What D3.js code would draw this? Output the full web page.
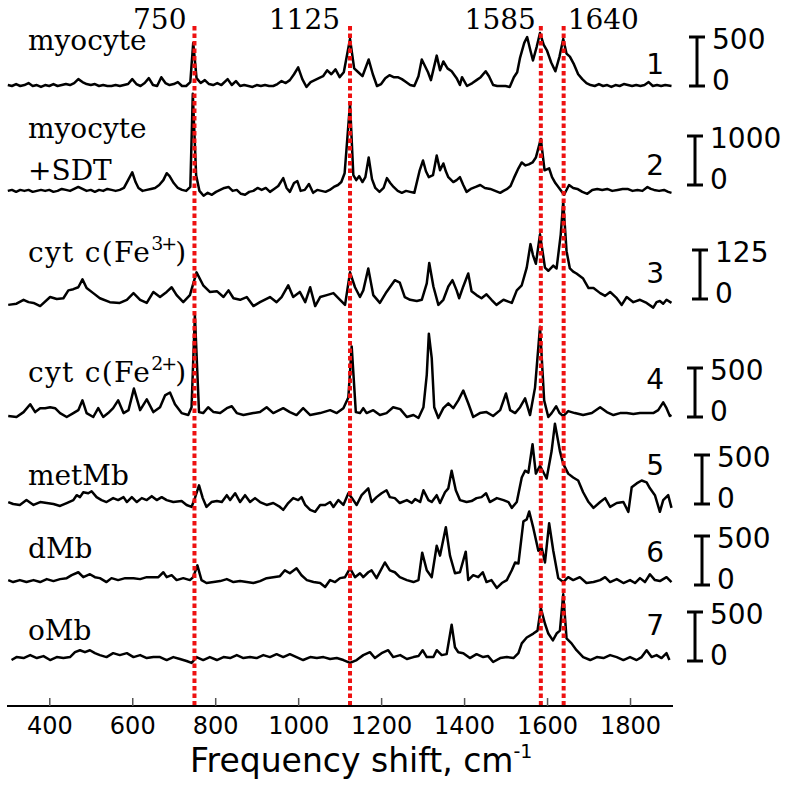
<!DOCTYPE html>
<meta charset="utf-8">
<style>
body { margin: 0; background: #fff; }
svg { display: block; }
.trace { fill: none; stroke: #000; stroke-width: 2.5; stroke-linejoin: round; }
.peak { stroke: #ee1111; stroke-width: 4; stroke-dasharray: 4.5,3; }
.serif { font-family: "DejaVu Serif", serif; font-size: 28px; fill: #000; }
.sans { font-family: "DejaVu Sans", sans-serif; fill: #000; }
.axis .domain { stroke: #000; stroke-width: 2; }
.axis .tick line { stroke: #555; stroke-width: 1.5; }
.axis .tick text { font-family: "DejaVu Sans", sans-serif; font-size: 24px; fill: #000; }
</style>
<body>
<script src="https://d3js.org/d3.v7.min.js"></script>
<script>

// data
const peakLines = [750, 1125, 1585, 1640];
const xTicks = [400, 600, 800, 1000, 1200, 1400, 1600, 1800];
const traceNames = ["myocyte", "myocyte\n+SDT", "cyt c(Fe{3+})", "cyt c(Fe{2+})", "metMb", "dMb", "oMb"];
const traceNumbers = ["1", "2", "3", "4", "5", "6", "7"];
const scaleBars = [500, 1000, 125, 500, 500, 500, 500];

const myocyte = [[300,10],[310,0],[320,20],[330,0],[340,10],[350,30],[360,0],[370,10],[380,-10],[390,10],[400,0],[410,20],[420,0],[430,10],[440,20],[450,10],[460,30],[470,70],[480,40],[490,20],[500,10],[510,20],[520,0],[530,10],[540,0],[550,0],[560,10],[570,0],[580,10],[590,20],[600,70],[610,20],[620,0],[630,30],[640,80],[650,10],[660,0],[670,90],[680,30],[690,10],[700,20],[710,40],[720,0],[730,0],[740,40],[747,440],[755,80],[765,30],[775,60],[785,20],[795,10],[805,30],[815,10],[830,70],[840,10],[850,50],[860,0],[870,10],[880,0],[890,-10],[900,10],[910,0],[920,10],[930,0],[940,0],[950,20],[960,50],[970,30],[980,60],[990,120],[1000,190],[1010,70],[1020,-10],[1030,40],[1040,60],[1050,80],[1060,100],[1070,160],[1080,120],[1090,170],[1100,90],[1110,140],[1125,480],[1135,180],[1145,140],[1155,100],[1170,270],[1180,120],[1190,0],[1200,20],[1210,80],[1220,110],[1230,90],[1240,90],[1250,70],[1260,40],[1270,10],[1280,0],[1290,100],[1298,270],[1313,140],[1320,60],[1334,310],[1342,160],[1350,250],[1360,180],[1370,150],[1382,80],[1390,10],[1395,90],[1407,0],[1420,30],[1430,60],[1440,90],[1452,150],[1460,100],[1470,10],[1480,0],[1490,0],[1500,0],[1510,-10],[1520,90],[1528,140],[1535,290],[1545,440],[1552,500],[1560,360],[1566,260],[1575,400],[1583,540],[1592,420],[1600,360],[1610,240],[1620,150],[1630,300],[1639,480],[1647,330],[1655,300],[1665,220],[1675,120],[1685,70],[1695,30],[1705,10],[1715,0],[1725,20],[1735,0],[1745,10],[1755,-10],[1765,10],[1775,0],[1785,20],[1795,10],[1805,0],[1815,10],[1825,0],[1835,10],[1845,40],[1855,0],[1865,10],[1875,0],[1885,10],[1900,0]];

const myocyteSDT = [[300,-120],[310,-100],[320,-140],[330,-100],[340,-120],[350,-100],[360,-140],[370,-120],[380,-100],[390,-120],[400,-100],[410,-140],[420,-120],[430,-80],[440,-100],[450,-120],[460,-80],[470,-40],[480,-80],[490,-120],[500,-100],[510,-140],[520,-100],[530,-120],[540,-80],[550,-100],[560,-120],[570,-100],[580,-60],[590,100],[600,260],[608,60],[615,-60],[625,-120],[635,-100],[645,-80],[655,-60],[665,0],[675,100],[683,240],[690,180],[700,40],[710,-60],[720,-100],[730,-120],[740,-40],[746,1860],[754,200],[762,-120],[772,-220],[782,-160],[792,-200],[802,-140],[812,-100],[822,-60],[832,-40],[842,-120],[852,-100],[862,-180],[872,-200],[882,-140],[892,-120],[902,-60],[912,-100],[922,-60],[932,-140],[942,-80],[952,-20],[964,140],[972,-60],[980,-140],[990,40],[998,80],[1006,-120],[1016,-100],[1026,20],[1036,-160],[1046,-100],[1056,-120],[1066,-140],[1076,-100],[1086,-40],[1096,0],[1104,60],[1112,240],[1125,1660],[1133,200],[1140,100],[1147,180],[1155,60],[1162,160],[1170,560],[1178,120],[1186,-60],[1196,-140],[1206,-60],[1214,140],[1222,40],[1230,-40],[1240,-120],[1250,-160],[1260,-120],[1270,-140],[1280,-160],[1293,300],[1301,500],[1308,280],[1315,160],[1325,200],[1334,600],[1342,300],[1350,440],[1356,280],[1362,160],[1374,60],[1382,100],[1390,160],[1398,0],[1406,-140],[1416,-80],[1428,-40],[1439,0],[1450,-60],[1463,-80],[1475,-120],[1487,-160],[1495,-120],[1504,-80],[1512,-20],[1520,140],[1531,340],[1539,460],[1548,400],[1556,420],[1565,460],[1573,560],[1585,940],[1594,300],[1605,340],[1612,160],[1620,40],[1629,-60],[1641,-200],[1653,0],[1663,-60],[1673,-80],[1685,-140],[1697,-180],[1709,-100],[1721,-80],[1733,-100],[1745,-80],[1757,-120],[1770,-100],[1782,-80],[1794,-80],[1806,-120],[1818,-100],[1830,-120],[1842,-40],[1850,-80],[1858,-100],[1870,-120],[1882,-100],[1892,-140],[1900,-160]];

const cytcFe3 = [[301,-15],[321,-12],[338,-2],[350,-8],[362,-10],[378,-18],[402,5],[418,0],[434,2],[446,22],[458,25],[470,30],[480,50],[490,28],[506,15],[522,2],[546,-8],[570,-10],[587,-2],[603,15],[619,-2],[635,-10],[651,18],[667,5],[683,18],[695,30],[707,10],[723,-8],[739,10],[755,68],[771,35],[787,18],[804,20],[820,5],[832,22],[844,2],[860,-2],[876,5],[892,-18],[908,-8],[932,5],[948,-8],[960,5],[976,35],[988,5],[1004,18],[1017,-8],[1029,30],[1041,-18],[1053,5],[1069,10],[1085,15],[1101,-2],[1113,-15],[1125,68],[1137,30],[1149,5],[1157,22],[1169,78],[1181,10],[1197,-10],[1213,18],[1233,48],[1245,42],[1257,5],[1270,-2],[1286,-5],[1298,-2],[1310,40],[1316,92],[1326,32],[1338,-15],[1350,-2],[1362,32],[1372,48],[1382,22],[1388,2],[1398,32],[1410,65],[1418,20],[1430,10],[1442,2],[1454,12],[1466,-2],[1478,-15],[1495,-2],[1515,-10],[1527,22],[1539,35],[1551,80],[1560,140],[1566,112],[1573,90],[1583,165],[1595,80],[1603,72],[1615,85],[1623,78],[1633,165],[1639,248],[1647,122],[1655,78],[1663,70],[1671,65],[1687,52],[1700,28],[1712,28],[1728,15],[1740,8],[1752,18],[1768,2],[1780,-15],[1792,5],[1808,-8],[1824,-2],[1840,-10],[1856,-22],[1864,-8],[1872,-5],[1880,-12],[1888,-2],[1900,-10]];

const cytcFe2 = [[301,10],[321,0],[338,50],[354,130],[366,50],[378,90],[390,90],[402,100],[414,90],[426,40],[442,0],[458,40],[470,70],[480,170],[490,40],[506,0],[518,90],[530,0],[542,40],[554,90],[566,170],[579,40],[591,70],[604,290],[619,70],[635,180],[651,50],[667,100],[679,220],[691,250],[703,130],[719,40],[735,20],[743,100],[751,1040],[761,50],[771,40],[783,100],[796,50],[812,40],[828,90],[840,110],[852,40],[868,20],[892,40],[908,50],[924,100],[940,40],[964,90],[980,50],[996,20],[1012,90],[1029,20],[1053,40],[1077,70],[1093,40],[1109,90],[1121,200],[1129,720],[1139,50],[1149,40],[1157,90],[1165,40],[1181,70],[1197,20],[1213,40],[1229,100],[1246,80],[1262,0],[1278,20],[1290,-10],[1302,100],[1310,430],[1315,850],[1322,600],[1328,100],[1338,-10],[1350,90],[1362,140],[1374,90],[1386,170],[1398,270],[1410,140],[1422,0],[1438,40],[1454,50],[1470,10],[1487,70],[1501,240],[1511,70],[1523,40],[1535,100],[1547,190],[1559,20],[1571,300],[1583,920],[1593,170],[1603,0],[1611,40],[1622,110],[1630,40],[1639,10],[1651,60],[1667,40],[1687,20],[1708,40],[1728,100],[1744,50],[1760,20],[1776,40],[1792,40],[1808,30],[1824,40],[1840,40],[1856,40],[1868,70],[1880,150],[1888,90],[1896,10],[1900,20]];

const metMb = [[301,20],[313,0],[329,-10],[345,40],[362,-10],[378,20],[394,10],[410,0],[426,-20],[442,10],[458,40],[466,90],[474,70],[482,120],[494,110],[502,130],[514,70],[526,40],[538,20],[554,60],[566,40],[579,70],[587,20],[599,70],[611,20],[623,60],[635,40],[647,80],[659,40],[671,70],[683,40],[699,20],[719,30],[731,-10],[743,-30],[751,60],[761,190],[770,60],[779,-30],[791,20],[804,30],[816,20],[828,90],[836,40],[848,110],[860,20],[872,90],[884,20],[896,60],[908,20],[924,-10],[940,10],[956,-30],[964,-60],[976,10],[988,60],[1000,40],[1008,70],[1017,-10],[1029,-60],[1041,-80],[1053,-10],[1065,-10],[1077,20],[1085,-30],[1097,40],[1109,-10],[1121,110],[1133,40],[1141,-10],[1153,90],[1169,160],[1177,20],[1189,70],[1201,110],[1213,140],[1221,70],[1233,60],[1245,10],[1262,40],[1274,10],[1282,50],[1294,20],[1302,140],[1314,40],[1322,20],[1334,90],[1342,10],[1354,120],[1362,160],[1370,340],[1380,140],[1390,40],[1406,20],[1418,30],[1430,60],[1442,70],[1453,110],[1462,20],[1479,60],[1495,40],[1507,20],[1515,-40],[1527,20],[1539,270],[1547,340],[1555,320],[1565,610],[1573,310],[1583,390],[1599,260],[1611,540],[1619,820],[1631,540],[1639,410],[1651,310],[1663,270],[1675,240],[1687,120],[1700,20],[1712,-40],[1728,20],[1740,60],[1752,-30],[1768,10],[1784,20],[1796,-80],[1804,170],[1816,210],[1828,240],[1840,220],[1848,160],[1860,90],[1872,-80],[1880,40],[1892,90],[1900,-40]];

const dMb = [[301,50],[313,30],[329,50],[345,30],[362,50],[378,30],[394,60],[410,40],[426,60],[442,70],[454,100],[470,130],[482,80],[498,110],[510,80],[522,70],[538,30],[550,70],[566,50],[583,70],[603,70],[619,60],[635,80],[651,80],[663,80],[675,130],[683,80],[695,100],[707,50],[723,70],[739,50],[747,80],[757,200],[767,50],[779,20],[796,30],[812,40],[828,60],[844,30],[860,40],[876,30],[892,20],[908,40],[924,70],[940,80],[956,90],[968,150],[980,120],[996,170],[1008,100],[1021,50],[1037,30],[1053,20],[1065,-20],[1077,50],[1089,30],[1101,70],[1113,80],[1125,170],[1137,80],[1149,120],[1157,80],[1169,130],[1177,150],[1189,70],[1209,230],[1221,150],[1233,130],[1245,80],[1262,50],[1278,30],[1290,50],[1299,330],[1310,150],[1322,80],[1334,400],[1342,300],[1356,590],[1366,300],[1378,120],[1390,130],[1404,340],[1410,50],[1422,100],[1434,80],[1445,130],[1454,30],[1466,50],[1479,-30],[1491,20],[1503,50],[1515,150],[1523,230],[1531,220],[1543,650],[1551,670],[1557,750],[1567,580],[1579,350],[1587,380],[1595,230],[1605,630],[1615,350],[1627,70],[1639,30],[1651,80],[1663,50],[1679,80],[1695,20],[1712,30],[1728,50],[1740,80],[1752,30],[1768,60],[1784,20],[1800,50],[1812,20],[1824,70],[1836,30],[1848,110],[1860,50],[1872,40],[1888,80],[1900,30]];

const oMb = [[309,10],[321,40],[338,30],[354,60],[370,30],[386,50],[402,10],[418,40],[434,30],[450,40],[462,90],[474,110],[486,90],[498,110],[510,80],[522,60],[538,40],[554,80],[570,60],[587,80],[603,40],[619,60],[635,30],[651,40],[667,40],[683,10],[699,40],[715,20],[731,0],[743,-20],[755,40],[771,10],[787,40],[804,10],[820,40],[836,30],[852,60],[868,30],[884,40],[900,30],[916,60],[932,40],[948,70],[964,40],[980,70],[996,40],[1012,10],[1029,40],[1045,30],[1061,40],[1077,20],[1093,30],[1109,10],[1125,-20],[1141,10],[1157,60],[1173,90],[1185,30],[1201,80],[1217,110],[1229,40],[1246,60],[1262,20],[1278,40],[1290,50],[1300,110],[1310,40],[1326,40],[1334,110],[1346,60],[1358,70],[1370,370],[1378,140],[1386,90],[1398,80],[1414,30],[1430,70],[1446,40],[1458,50],[1470,-10],[1487,30],[1503,40],[1519,30],[1531,80],[1539,180],[1551,240],[1567,280],[1577,310],[1585,540],[1595,380],[1603,280],[1614,210],[1623,280],[1631,310],[1639,680],[1647,230],[1659,180],[1671,110],[1687,40],[1704,10],[1720,40],[1736,30],[1752,60],[1768,40],[1784,10],[1800,40],[1816,10],[1828,40],[1840,110],[1852,40],[1864,60],[1876,30],[1888,80],[1895,10]];

const traces = [myocyte, myocyteSDT, cytcFe3, cytcFe2, metMb, dMb, oMb];

// layout
const width = 790, height = 785;
const axisY = 706, barPx = 49;
const zeroY = [86, 185, 299, 417, 504, 585, 661];
const barX = [697, 695, 700, 695, 702, 702, 695];
const numY = [74, 175, 283, 389, 475, 562, 635];
const nameY = [[50], [138, 180], [262], [382], [485], [558], [640]];
const peakAnchor = ["end", "end", "end", "start"];
const peakDx = [-8, -10, -5, 4];

const x = d3.scaleLinear().domain([300, 1900]).range([7.8, 671.5]);

const svg = d3.select("body").append("svg")
    .attr("width", width)
    .attr("height", height);

svg.append("rect").attr("width", width).attr("height", height).attr("fill", "#fff");

// spectra
traces.forEach((data, i) => {
  const y = d3.scaleLinear()
      .domain([0, scaleBars[i]])
      .range([zeroY[i], zeroY[i] - barPx]);

  const line = d3.line()
      .x(d => x(d[0]))
      .y(d => y(d[1]));

  svg.append("path")
      .datum(data)
      .attr("class", "trace")
      .attr("d", line);

  // scale bar
  const bx = barX[i];
  const bar = svg.append("g").attr("stroke", "#000").attr("stroke-width", 3);
  bar.append("line").attr("x1", bx).attr("x2", bx).attr("y1", y(0)).attr("y2", y(scaleBars[i]));
  bar.append("line").attr("x1", bx - 8).attr("x2", bx + 8).attr("y1", y(0)).attr("y2", y(0));
  bar.append("line").attr("x1", bx - 8).attr("x2", bx + 8).attr("y1", y(scaleBars[i])).attr("y2", y(scaleBars[i]));

  svg.append("text").attr("class", "sans")
      .attr("x", bx + 15).attr("y", y(scaleBars[i]) + 12)
      .attr("font-size", 28)
      .text(scaleBars[i]);
  svg.append("text").attr("class", "sans")
      .attr("x", bx + 15).attr("y", y(0) + 4)
      .attr("font-size", 28)
      .text("0");

  // panel number
  svg.append("text").attr("class", "sans")
      .attr("x", 664).attr("y", numY[i])
      .attr("text-anchor", "end")
      .attr("font-size", 28)
      .text(traceNumbers[i]);

  // sample name, {..} marks a superscript
  traceNames[i].split("\n").forEach((row, j) => {
    const t = svg.append("text").attr("class", "serif")
        .attr("x", 28).attr("y", nameY[i][j]);
    row.split(/\{([^}]*)\}/).forEach((part, k) => {
      if (!part) return;
      if (k % 2 === 1) {
        t.append("tspan").attr("dy", -12).attr("font-size", 19)
            .attr("letter-spacing", -2).text(part);
      } else {
        t.append("tspan").attr("dy", k > 0 ? 12 : 0)
            .attr("letter-spacing", row.includes("{") && k === 0 ? 1.3 : 0)
            .text(part);
      }
    });
  });
});

// marker lines
svg.append("g")
  .selectAll("line")
  .data(peakLines)
  .join("line")
    .attr("class", "peak")
    .attr("x1", d => x(d)).attr("x2", d => x(d))
    .attr("y1", 26).attr("y2", axisY);

svg.append("g")
  .selectAll("text")
  .data(peakLines)
  .join("text")
    .attr("class", "serif")
    .attr("font-size", 29)
    .attr("x", (d, i) => x(d) + peakDx[i])
    .attr("y", 29)
    .attr("text-anchor", (d, i) => peakAnchor[i])
    .text(d => d);

// x axis
svg.append("g")
    .attr("class", "axis")
    .attr("transform", `translate(0,${axisY})`)
    .call(d3.axisBottom(x).tickValues(xTicks).tickSizeInner(-8).tickSizeOuter(0).tickPadding(11).tickFormat(d3.format("d")))
    .call(g => g.select(".domain").attr("d", "M7,0H673"));

const xl = svg.append("text").attr("class", "sans")
    .attr("x", 190).attr("y", 772)
    .attr("font-size", 33);
xl.append("tspan").text("Frequency shift, cm");
xl.append("tspan").attr("dy", -14).attr("font-size", 19).text("-1");

</script>
